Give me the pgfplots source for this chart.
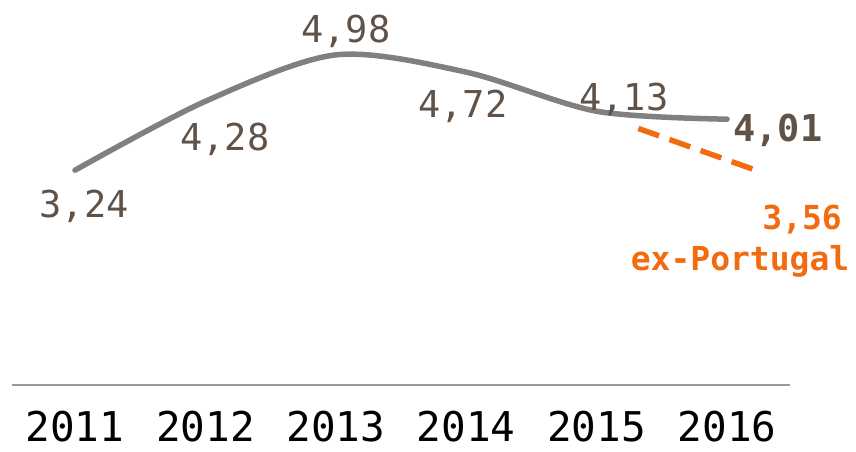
\documentclass[border=0pt]{standalone}
\usepackage{fontspec}
\setmainfont{DejaVu Sans Mono}
\usepackage{pgfplots}
\pgfplotsset{compat=1.18}
\definecolor{lbl}{HTML}{615248}
\definecolor{org}{HTML}{F26B0F}
\definecolor{ln}{HTML}{808080}
\definecolor{ax}{HTML}{9A9A9A}
\newcommand{\valfont}{\fontsize{37bp}{40bp}\selectfont}
\newcommand{\orgfont}{\bfseries\fontsize{33bp}{36bp}\selectfont}
\begin{document}
\begin{tikzpicture}
\begin{axis}[
  at={(12bp,67bp)}, anchor=south west,
  scale only axis, width=778bp, height=385bp,
  xmin=2010.517, xmax=2016.483, ymin=0, ymax=5.808,
  axis y line=none, axis x line=bottom,
  x axis line style={draw=ax, line width=1.5bp, -},
  xtick={2011,2012,2013,2014,2015,2016},
  xticklabels={2011,2012,2013,2014,2015,2016},
  major tick length=0pt,
  xticklabel style={anchor=base, yshift=-56bp, inner sep=0pt, text depth=0pt, font=\fontsize{41bp}{44bp}\selectfont, text=black},
  clip=false,
]
\addplot[ln, line width=5.5bp, smooth, line cap=round] coordinates {
  (2011,3.24) (2012,4.28) (2013,4.98) (2014,4.72) (2015,4.13) (2016,4.01)};
\addplot[org, line width=5.5bp, dash pattern=on 22bp off 11bp] coordinates {
  (2015.32,3.87) (2016.2,3.255)};
\node[anchor=base, text=lbl, font=\valfont] at (axis cs:2011.07,2.53) {3,24};
\node[anchor=base, text=lbl, font=\valfont] at (axis cs:2012.15,3.542) {4,28};
\node[anchor=base, text=lbl, font=\valfont] at (axis cs:2013.078,5.173) {4,98};
\node[anchor=base, text=lbl, font=\valfont] at (axis cs:2013.975,4.04) {4,72};
\node[anchor=base, text=lbl, font=\valfont] at (axis cs:2015.21,4.146) {4,13};
\node[anchor=base, text=lbl, font=\bfseries\valfont] at (axis cs:2016.39,3.678) {4,01};
\node[anchor=base, text=org, font=\orgfont] at (axis cs:2016.575,2.349) {3,56};
\node[anchor=base, text=org, font=\orgfont] at (axis cs:2016.10,1.729) {ex-Portugal};
\end{axis}
\pgfresetboundingbox
\path (0,0) rectangle (856bp,452bp);
\end{tikzpicture}
\end{document}
